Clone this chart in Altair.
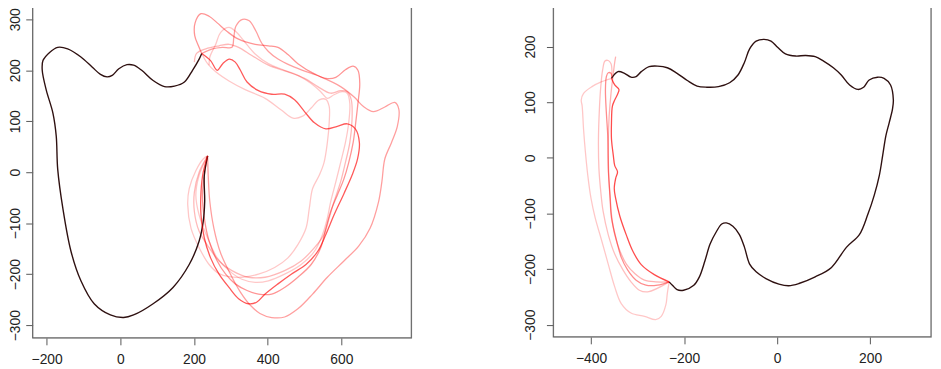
import altair as alt
import pandas as pd

# ---------------- Left panel data ----------------
left_black_x = [237,228,229,225,214,187,143,89,36,9,-27,-71,-107,-134,-156,-170,-174,-183,-201,-212,
                -210,-192,-170,-143,-107,-76,-54,-36,-22,-4,18,36,58,89,120,147,174,196,214,221]
left_black_y = [32,-6,-58,-97,-135,-181,-226,-258,-280,-285,-280,-258,-213,-155,-71,6,71,116,161,200,
                219,235,245,242,226,206,192,187,190,203,211,210,200,180,168,169,177,200,222,233]

left_r1_x = [221,245,263,278,296,312,326,344,375,411,446,473,500,527,558,589,616,638,649,644,
             629,607,580,558,536,504,464,428,393,370,348,321,295,268,245,228,219,219,225,237]
left_r1_y = [233,219,200,213,222,216,200,177,160,153,153,142,119,97,85,90,95,85,58,26,
             -6,-42,-84,-122,-155,-181,-200,-219,-239,-255,-258,-248,-226,-200,-168,-129,-84,-39,0,32]

left_a_x = [221,212,202,203,219,241,263,290,321,366,402,428,455,482,527,558,585,611,632,645,
            650,645,639,632,620,607,589,571,558,544,518,482,446,411,375,344,312,286,263,241,228,223,228,237]
left_a_y = [233,248,268,293,311,306,293,276,261,251,248,245,231,213,193,184,186,201,208,200,
            174,135,97,58,19,-13,-45,-77,-110,-148,-181,-206,-226,-239,-239,-232,-219,-200,-174,-135,-90,-45,-6,32]

left_b_x = [221,250,277,303,308,314,332,350,368,384,402,428,460,495,544,598,634,660,687,718,
            745,756,752,736,718,710,701,678,647,607,562,522,482,446,411,379,353,326,299,272,254,243,239,237]
left_b_y = [233,242,245,245,264,287,300,297,277,253,237,222,210,200,187,168,148,129,119,128,
            137,124,90,58,26,-19,-58,-110,-145,-174,-206,-239,-268,-284,-285,-277,-261,-235,-200,-158,-110,-58,-13,32]

left_c_x = [241,243,259,272,295,312,335,366,402,446,482,518,544,562,580,602,616,623,620,611,
            598,585,571,562,549,527,491,446,402,366,330,295,263,237,214,205,214,237]
left_c_y = [210,226,251,274,284,277,258,232,213,200,190,174,158,145,152,158,155,135,97,58,
            19,-19,-58,-90,-122,-155,-181,-200,-213,-216,-210,-193,-168,-129,-84,-45,-6,32]

left_d_x = [221,237,259,295,339,393,437,469,495,518,540,558,567,567,562,553,540,522,513,504,
            482,455,419,375,330,295,268,241,214,192,183,187,205,225,237]
left_d_y = [233,213,197,179,162,145,122,106,110,126,142,143,129,97,58,19,-6,-32,-71,-110,
            -142,-168,-187,-200,-206,-205,-199,-181,-148,-110,-64,-32,3,26,32]

left_e_x = [201,207,232,268,295,321,357,402,455,500,536,571,598,616,627,629,623,611,598,580,
            567,553,527,491,446,393,348,303,268,241,214,201,201,214,237]
left_e_y = [216,233,242,248,251,245,229,210,197,184,168,155,160,158,142,103,58,19,-19,-58,
            -90,-122,-148,-174,-193,-206,-206,-193,-174,-148,-116,-77,-39,0,32]

left_x_ticks = [-200, 0, 200, 400, 600]
left_y_ticks = [-300, -200, -100, 0, 100, 200, 300]

# ---------------- Right panel data ----------------
right_black_x = [-356,-342,-328,-314,-303,-292,-275,-257,-236,-215,-193,-172,-151,-126,-102,-84,-70,-59,-45,-28,
                 -13,1,18,40,61,82,100,121,138,156,174,186,198,216,230,244,250,248,241,234,
                 227,220,209,195,177,149,117,82,47,25,4,-24,-45,-59,-70,-81,-95,-109,-119,-130,
                 -144,-155,-167,-179,-201,-215,-225,-232]
right_black_y = [143,155,152,145,146,155,164,165,162,152,139,129,127,128,135,149,172,196,210,213,
                 210,199,187,183,184,182,174,162,149,131,123,127,140,145,143,131,104,87,63,40,
                 4,-31,-67,-102,-138,-161,-197,-214,-226,-230,-227,-217,-205,-191,-161,-138,-123,-117,-119,-132,
                 -155,-185,-214,-229,-238,-237,-229,-223]

right_r1_x = [-232,-264,-292,-310,-324,-338,-347,-350,-347,-343,-349,-352,-356,-356,-354,-349,-342,-340,-349,-356]
right_r1_y = [-223,-210,-192,-168,-139,-105,-73,-55,-37,-25,-14,4,34,63,93,104,116,123,131,143]

right_r2_x = [-232,-257,-282,-303,-321,-335,-345,-356,-359,-362,-363,-364,-367,-369,-367,-363,-357,-355]
right_r2_y = [-223,-229,-229,-220,-202,-179,-149,-108,-73,-31,4,40,81,122,146,153,152,145]

right_r3_x = [-232,-278,-296,-314,-331,-349,-363,-374,-379,-383,-384,-382,-379,-375,-370,-363,-357,-355,-356]
right_r3_y = [-223,-241,-238,-223,-202,-173,-138,-96,-61,-19,34,87,128,158,174,175,169,155,143]

right_r4_x = [-232,-261,-285,-306,-324,-338,-349,-356,-359,-363,-363,-361,-357,-352,-349,-347]
right_r4_y = [-223,-223,-220,-208,-191,-167,-138,-102,-67,-19,28,75,116,152,172,182]

right_r5_x = [-232,-236,-239,-249,-261,-285,-314,-335,-349,-363,-377,-391,-400,-407,-412,-416,-419,-421,-416,-398,
              -377,-363,-356]
right_r5_y = [-223,-244,-264,-285,-291,-285,-279,-262,-232,-191,-149,-108,-73,-31,10,51,93,104,116,128,
              137,141,143]

right_x_ticks = [-400, -200, 0, 200]
right_y_ticks = [-300, -200, -100, 0, 100, 200]

FONT = "Liberation Sans"


def curve(xs, ys, color, opacity, width, xdom, ydom, xticks, yticks, ypad):
    df = pd.DataFrame({"x": xs, "y": ys, "i": list(range(len(xs)))})
    xaxis = alt.Axis(values=xticks, title=None, grid=False, domain=False, tickSize=7,
                     tickColor="#555555", tickWidth=1, labelFont=FONT, labelFontSize=14,
                     labelColor="#222222", labelPadding=8, labelFlush=False)
    yaxis = alt.Axis(values=yticks, title=None, grid=False, domain=False, tickSize=7,
                     tickColor="#555555", tickWidth=1, labelFont=FONT, labelFontSize=14,
                     labelColor="#222222", labelPadding=ypad, labelAngle=270,
                     labelAlign="center", labelBaseline="bottom", labelFlush=False)
    return alt.Chart(df).mark_line(
        color=color, opacity=opacity, strokeWidth=width, interpolate="catmull-rom"
    ).encode(
        x=alt.X("x:Q", scale=alt.Scale(domain=xdom, nice=False, zero=False), axis=xaxis),
        y=alt.Y("y:Q", scale=alt.Scale(domain=ydom, nice=False, zero=False), axis=yaxis),
        order="i:Q",
    )


def frame(w, h):
    return alt.Chart(pd.DataFrame({"a": [0]})).mark_rect(
        fillOpacity=0, stroke="#666666", strokeWidth=1.2
    ).encode(x=alt.value(0), x2=alt.value(w), y=alt.value(0), y2=alt.value(h))


RED = "#ff0000"
BLACK = "#2e1010"

LW, LH = 384, 336
lxd, lyd = [-238, 790], [-325, 325]
lp = 3
left = alt.layer(
    curve(left_c_x, left_c_y, RED, 0.22, 1.3, lxd, lyd, left_x_ticks, left_y_ticks, lp),
    curve(left_d_x, left_d_y, RED, 0.22, 1.3, lxd, lyd, left_x_ticks, left_y_ticks, lp),
    curve(left_e_x, left_e_y, RED, 0.28, 1.3, lxd, lyd, left_x_ticks, left_y_ticks, lp),
    curve(left_b_x, left_b_y, RED, 0.38, 1.3, lxd, lyd, left_x_ticks, left_y_ticks, lp),
    curve(left_a_x, left_a_y, RED, 0.42, 1.3, lxd, lyd, left_x_ticks, left_y_ticks, lp),
    curve(left_black_x, left_black_y, BLACK, 1.0, 1.4, lxd, lyd, left_x_ticks, left_y_ticks, lp),
    curve(left_r1_x, left_r1_y, RED, 0.65, 1.3, lxd, lyd, left_x_ticks, left_y_ticks, lp),
    frame(LW, LH),
).properties(width=LW, height=LH)

RW, RH = 383, 335
rxd, ryd = [-481, 331], [-322, 272]
rp = 9
right = alt.layer(
    curve(right_r5_x, right_r5_y, RED, 0.22, 1.3, rxd, ryd, right_x_ticks, right_y_ticks, rp),
    curve(right_r3_x, right_r3_y, RED, 0.25, 1.3, rxd, ryd, right_x_ticks, right_y_ticks, rp),
    curve(right_r4_x, right_r4_y, RED, 0.3, 1.3, rxd, ryd, right_x_ticks, right_y_ticks, rp),
    curve(right_black_x, right_black_y, BLACK, 1.0, 1.4, rxd, ryd, right_x_ticks, right_y_ticks, rp),
    curve(right_r2_x, right_r2_y, RED, 0.45, 1.3, rxd, ryd, right_x_ticks, right_y_ticks, rp),
    curve(right_r1_x, right_r1_y, RED, 0.7, 1.3, rxd, ryd, right_x_ticks, right_y_ticks, rp),
    frame(RW, RH),
).properties(width=RW, height=RH)

chart = alt.hconcat(left, right, spacing=111).properties(
    padding={"left": 0, "top": -6, "right": 0, "bottom": 0}
).configure_view(stroke=None).configure(background="white")

chart.save("out.html", embed_options={"renderer": "svg", "actions": False})
